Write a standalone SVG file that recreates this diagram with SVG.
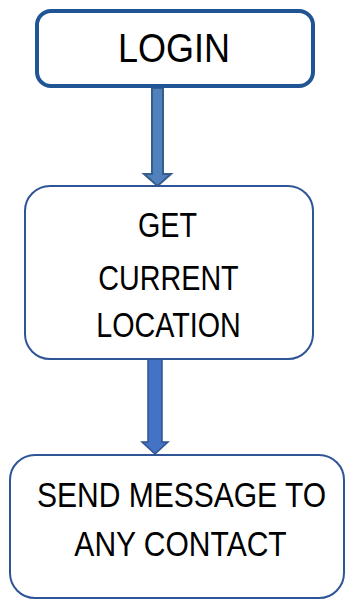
<svg xmlns="http://www.w3.org/2000/svg" width="345" height="599" viewBox="0 0 345 599">
<style>
.t{font-family:"Liberation Sans",Arial,sans-serif;fill:#000;text-anchor:middle}
.box{fill:#fff;stroke:#2F5597;stroke-width:2}
</style>
<rect width="345" height="599" fill="#fff"/>
<g id="connectors">
<path d="M152,88 L163,88 L163,174 L171,174 L157.5,186 L144,174 L152,174 Z" fill="#4F81BD" stroke="#385D8A" stroke-width="2" stroke-linejoin="miter"/>
<path d="M148,359 L162,359 L162,442 L168,442 L155,454 L142,442 L148,442 Z" fill="#4472C4" stroke="#2F528F" stroke-width="1.5"/>
</g>
<g id="login">
<rect x="37" y="11" width="276" height="75" rx="14" fill="#fff" stroke="#1F5594" stroke-width="4"/>
<text class="t" transform="translate(174,62) scale(0.9,1)" font-size="40">LOGIN</text>
</g>
<g id="getlocation">
<rect class="box" x="25" y="186" width="288" height="173" rx="25"/>
<text class="t" transform="translate(167.5,237) scale(0.82,1)" font-size="35">GET</text>
<text class="t" transform="translate(168.5,290) scale(0.82,1)" font-size="35">CURRENT</text>
<text class="t" transform="translate(168.5,337) scale(0.82,1)" font-size="35">LOCATION</text>
</g>
<g id="sendmessage">
<rect class="box" x="10" y="455" width="334" height="143" rx="25"/>
<text class="t" transform="translate(181.5,507) scale(0.834,1)" font-size="36">SEND MESSAGE TO</text>
<text class="t" transform="translate(180.5,556) scale(0.834,1)" font-size="36">ANY CONTACT</text>
</g>
</svg>
